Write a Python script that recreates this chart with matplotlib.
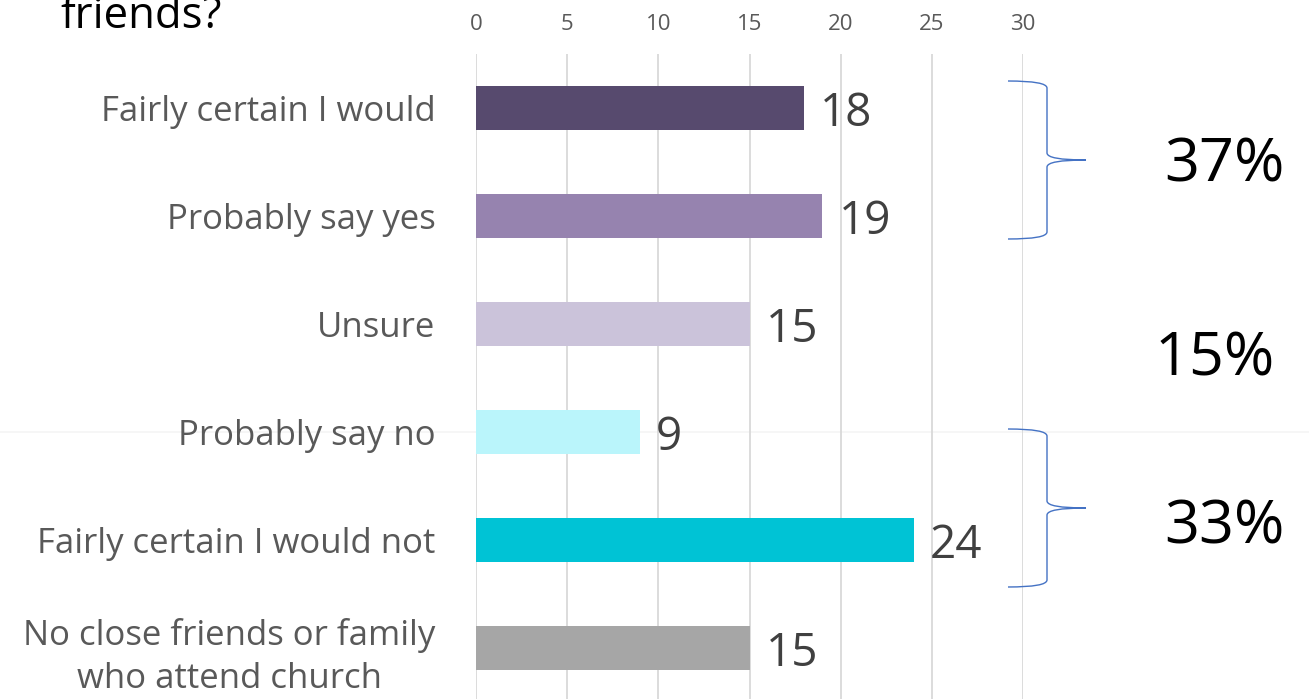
import matplotlib
matplotlib.use("Agg")
import matplotlib.pyplot as plt
from matplotlib.path import Path
from matplotlib.patches import PathPatch

plt.rcParams['font.family'] = ['Open Sans', 'DejaVu Sans']

# Survey responses
categories = [
    "Fairly certain I would",
    "Probably say yes",
    "Unsure",
    "Probably say no",
    "Fairly certain I would not",
    "No close friends or family\nwho attend church",
]
counts = [18, 19, 15, 9, 24, 15]
bar_colors = ["#574A6E", "#9683AF", "#CBC3DA", "#BAF5FB", "#00C3D5", "#A6A6A6"]
x_ticks = [0, 5, 10, 15, 20, 25, 30]

# Grouped share call-outs
group_pcts = ["37%", "15%", "33%"]

W, H = 1309, 699
fig = plt.figure(figsize=(W / 100, H / 100), dpi=100)

# Background layer in pixel coordinates (faint slide rule)
bg = fig.add_axes([0, 0, 1, 1], facecolor='none')
bg.set_xlim(0, W)
bg.set_ylim(H, 0)
bg.axis('off')
bg.plot([0, W], [432, 432], color="#F5F5F5", linewidth=1.2)

# Main bar axes
ax = fig.add_axes([476 / W, 1 - 702 / H, (1023 - 476) / W, 648 / H])
ax.patch.set_alpha(0)
ypos = list(range(len(categories)))
ax.barh(ypos, counts, height=0.41, color=bar_colors, zorder=2)
ax.set_xlim(0, 30)
ax.set_ylim(len(categories) - 0.5, -0.5)
ax.set_xticks(x_ticks)
ax.set_yticks(ypos)
ax.set_yticklabels(categories)
ax.xaxis.tick_top()
ax.tick_params(axis='x', length=0, pad=14, labelsize=16, labelcolor="#595959")
ax.tick_params(axis='y', length=0, pad=29, labelsize=25, labelcolor="#595959")
for lbl in ax.get_yticklabels():
    lbl.set_multialignment('center')
    lbl.set_linespacing(1.36)
ax.grid(axis='x', color="#D9D9D9", linewidth=1.3, zorder=0)
for s in ax.spines.values():
    s.set_visible(False)

for y, v in zip(ypos, counts):
    ax.annotate(str(v), xy=(v, y), xytext=(11.5, -12.6), textcoords='offset points',
                ha='left', va='baseline', fontsize=33, color="#404040")

# Overlay in pixel coordinates for title fragment, braces and call-outs
ov = fig.add_axes([0, 0, 1, 1], facecolor='none')
ov.set_xlim(0, W)
ov.set_ylim(H, 0)
ov.axis('off')

ov.text(60, 28, "friends?", fontsize=31.5, color="black", ha='left', va='baseline')


def brace(y_top, y_mid, y_bot, x_tip=1008, x_stem=1047, x_point=1086, r=7):
    verts = [
        (x_tip, y_top), (x_stem, y_top), (x_stem, y_top + r),
        (x_stem, y_mid - r),
        (x_stem, y_mid), (x_point, y_mid),
        (x_stem, y_mid), (x_stem, y_mid + r),
        (x_stem, y_bot - r),
        (x_stem, y_bot), (x_tip, y_bot),
    ]
    codes = [Path.MOVETO, Path.CURVE3, Path.CURVE3, Path.LINETO,
             Path.CURVE3, Path.CURVE3, Path.CURVE3, Path.CURVE3,
             Path.LINETO, Path.CURVE3, Path.CURVE3]
    ov.add_patch(PathPatch(Path(verts, codes), facecolor='none',
                           edgecolor="#4472C4", linewidth=1.0))


brace(81, 160, 239)
brace(429, 508, 587)

for txt, xc, yb in zip(group_pcts, [1224, 1215, 1224], [182, 375, 543]):
    ov.text(xc, yb, txt, fontsize=44, color="black", ha='center', va='baseline')

fig.savefig("out.png", dpi=100)
